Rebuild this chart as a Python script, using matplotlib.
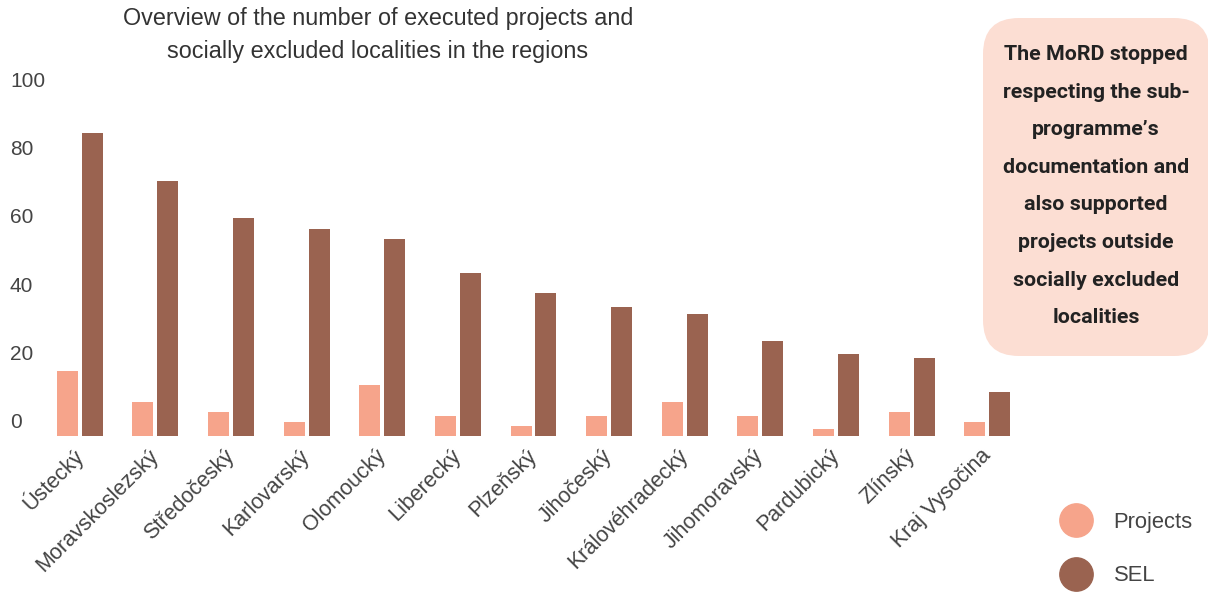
import numpy as np
import matplotlib
matplotlib.use("Agg")
import matplotlib.pyplot as plt
from matplotlib.patches import FancyBboxPatch
from matplotlib.lines import Line2D
from matplotlib import transforms

regions = ["Ústecký", "Moravskoslezský", "Středočeský", "Karlovarský", "Olomoucký",
           "Liberecký", "Plzeňský", "Jihočeský", "Královéhradecký", "Jihomoravský",
           "Pardubický", "Zlínský", "Kraj Vysočina"]
projects = [19, 10, 7, 4, 15, 6, 3, 6, 10, 6, 2, 7, 4]
sel = [89, 75, 64, 61, 58, 48, 42, 38, 36, 28, 24, 23, 13]
yticks = [0, 20, 40, 60, 80, 100]

c_proj = "#F6A48B"
c_sel = "#9A6350"
txt = "#444444"

W, H = 1208, 593
fig = plt.figure(figsize=(W / 100, H / 100), dpi=100)
ax = fig.add_axes([42 / W, 157 / H, 983 / W, 340 / H])

x = np.arange(len(regions))
bw = 0.278
ax.bar(x - 0.165, projects, bw, color=c_proj)
ax.bar(x + 0.165, sel, bw, color=c_sel)

ax.set_xlim(-0.5, len(regions) - 0.5)
ax.set_ylim(0, 100)
for s in ax.spines.values():
    s.set_visible(False)
ax.set_yticks([])
ax.set_xticks(x)
ax.set_xticklabels(regions, rotation=45, ha="right", va="center",
                   rotation_mode="anchor", fontsize=15.5, color=txt,
                   family="Liberation Sans")
ax.tick_params(axis="x", length=0, pad=12)

# y labels sit a bit above their value
lift = transforms.ScaledTranslation(0, 14 / 100, fig.dpi_scale_trans)
ytr = transforms.blended_transform_factory(fig.transFigure, ax.transData) + lift
for v in yticks:
    ax.text(10 / W, v, str(v), transform=ytr, ha="left", va="center",
            fontsize=15, color=txt, family="Liberation Sans")

fig.text(378 / W, 1 - 35 / H,
         "Overview of the number of executed projects and\nsocially excluded localities in the regions",
         ha="center", va="center", fontsize=16.8, color="#333333",
         family="Liberation Sans", linespacing=1.52)

# note box on the right
box = FancyBboxPatch((9.83, 2.37), 2.27, 3.38,
                     boxstyle="round,pad=0,rounding_size=0.36",
                     transform=fig.dpi_scale_trans, facecolor="#FCDED3",
                     edgecolor="none")
fig.add_artist(box)
note = ("The MoRD stopped\nrespecting the sub-\nprogramme\u2019s\ndocumentation and\n"
        "also supported\nprojects outside\nsocially excluded\nlocalities")
fig.text(1096 / W, 1 - 186 / H, note, ha="center", va="center", fontsize=15.4,
         fontweight="bold", color="#222222", family="Roboto", linespacing=2.24)

handles = [Line2D([], [], marker="o", ls="", color=c_proj, markersize=24),
           Line2D([], [], marker="o", ls="", color=c_sel, markersize=24)]
leg = fig.legend(handles, ["Projects", "SEL"], loc="center left",
                 bbox_to_anchor=(1043 / W, 1 - 549 / H), frameon=False,
                 prop={"family": "Liberation Sans", "size": 15.8},
                 labelspacing=1.5, handletextpad=0.72, borderpad=0)
for t in leg.get_texts():
    t.set_color(txt)

fig.savefig("out.png", dpi=100)
